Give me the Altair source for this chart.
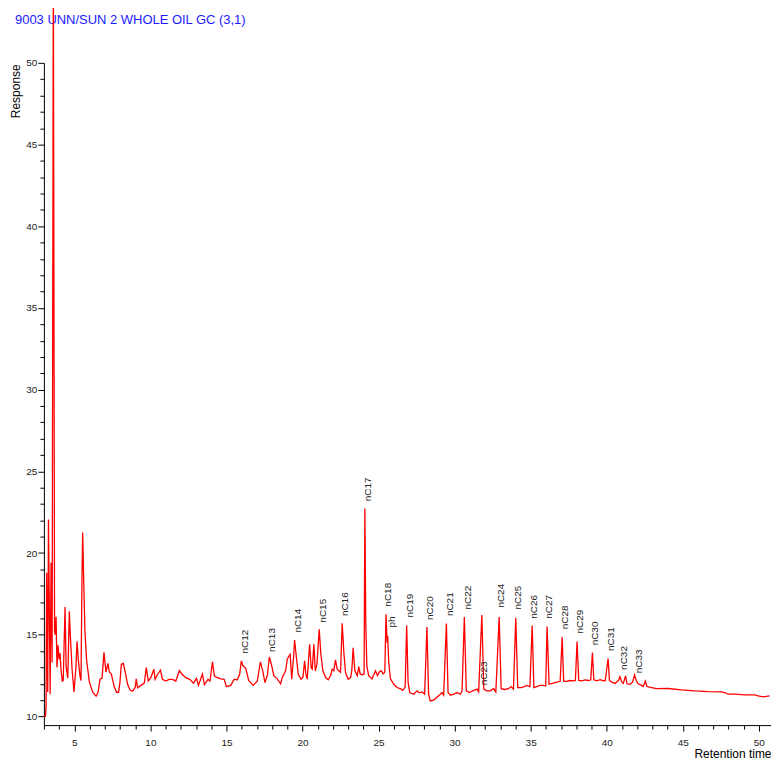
import altair as alt
import pandas as pd

title_text = "9003 UNN/SUN 2 WHOLE OIL GC (3,1)"

time_min = [
    3.00, 3.10, 3.14, 3.18, 3.25, 3.30, 3.41, 3.47, 3.54, 3.62, 3.70, 3.74, 3.80, 3.86, 3.93,
    4.00, 4.06, 4.12, 4.21, 4.27, 4.39, 4.46, 4.57, 4.67, 4.74, 4.85, 4.98, 5.11, 5.18, 5.26,
    5.37, 5.44, 5.50, 5.55, 5.62, 5.70, 5.81, 5.99, 6.21, 6.43, 6.56, 6.69, 6.82, 6.95, 7.08,
    7.21, 7.30, 7.43, 7.63, 7.78, 7.91, 8.00, 8.09, 8.22, 8.35, 8.50, 8.66, 8.83, 9.01, 9.07,
    9.16, 9.38, 9.60, 9.73, 9.86, 10.03, 10.23, 10.31, 10.47, 10.66, 10.79, 11.01, 11.23, 11.45,
    11.67, 11.91, 12.07, 12.33, 12.59, 12.83, 13.03, 13.16, 13.42, 13.55, 13.79, 13.92, 14.08,
    14.21, 14.41, 14.63, 14.85, 15.00, 15.28, 15.50, 15.72, 15.87, 15.98, 16.09, 16.27, 16.46,
    16.76, 17.03, 17.23, 17.39, 17.53, 17.69, 17.82, 17.95, 18.12, 18.34, 18.56, 18.67, 18.89,
    19.00, 19.11, 19.19, 19.29, 19.42, 19.48, 19.59, 19.72, 19.90, 20.03, 20.14, 20.22, 20.31,
    20.40, 20.47, 20.57, 20.64, 20.75, 20.84, 20.95, 21.10, 21.20, 21.34, 21.52, 21.69, 21.85,
    21.95, 22.06, 22.17, 22.28, 22.39, 22.50, 22.61, 22.72, 22.83, 23.00, 23.16, 23.24, 23.33,
    23.44, 23.60, 23.70, 23.79, 23.92, 24.05, 24.10, 24.16, 24.23, 24.35, 24.57, 24.80, 24.93,
    25.06, 25.19, 25.30, 25.41, 25.49, 25.56, 25.60, 25.67, 25.78, 26.00, 26.21, 26.43, 26.59,
    26.75, 26.85, 26.94, 27.05, 27.31, 27.53, 27.68, 27.86, 28.03, 28.18, 28.29, 28.40, 28.62,
    28.84, 29.06, 29.17, 29.28, 29.46, 29.57, 29.72, 29.94, 30.16, 30.38, 30.49, 30.64, 30.77,
    30.97, 31.19, 31.47, 31.58, 31.79, 31.92, 32.12, 32.34, 32.56, 32.71, 32.93, 33.06, 33.32,
    33.54, 33.72, 33.87, 34.02, 34.15, 34.37, 34.58, 34.74, 34.95, 35.10, 35.21, 35.40, 35.62,
    35.84, 35.99, 36.08, 36.21, 36.43, 36.72, 36.94, 37.07, 37.17, 37.37, 37.59, 37.81, 37.94,
    38.05, 38.16, 38.36, 38.58, 38.80, 38.95, 39.06, 39.15, 39.35, 39.57, 39.72, 39.90, 40.09,
    40.18, 40.33, 40.55, 40.77, 40.87, 40.99, 41.09, 41.24, 41.33, 41.53, 41.70, 41.83, 41.94,
    42.07, 42.29, 42.40, 42.54, 42.64, 42.95, 43.28, 44.04, 44.92, 45.80, 46.67, 47.54, 47.80,
    47.98, 48.42, 49.08, 49.73, 49.95, 50.28, 50.71,
]

response = [
    10.00, 10.00, 10.60, 18.80, 11.50, 22.05, 11.36, 19.40, 13.30, 56.00, 15.20, 15.00, 16.10, 13.00, 14.35,
    13.50, 13.87, 12.90, 12.16, 12.20, 16.70, 13.07, 12.34, 16.43, 14.90, 12.90, 11.50, 13.07, 14.60, 13.50,
    12.48, 12.20, 18.20, 21.25, 18.20, 15.15, 13.40, 12.10, 11.48, 11.24, 11.48, 12.28, 12.34, 13.92, 12.72,
    13.25, 12.72, 12.60, 11.80, 11.48, 11.48, 12.10, 13.20, 13.25, 12.70, 11.97, 11.62, 11.55, 11.80, 12.30,
    11.75, 11.90, 12.04, 12.99, 12.17, 12.37, 12.89, 12.27, 12.57, 12.84, 12.27, 12.17, 12.27, 12.27,
    12.17, 12.80, 12.60, 12.37, 12.27, 12.04, 12.33, 11.90, 12.60, 11.95, 12.27, 12.17, 13.34,
    12.47, 12.37, 12.30, 12.27, 11.82, 11.90, 12.27, 12.25, 12.60, 13.40, 13.10, 12.95, 12.20,
    11.90, 12.17, 13.34, 12.78, 12.07, 12.52, 13.64, 13.20, 12.48, 12.30, 12.00, 12.38, 12.79,
    13.50, 13.70, 13.80, 12.28, 13.70, 14.68, 13.70, 12.58, 12.28, 12.40, 13.40, 12.60, 12.28,
    13.50, 14.42, 12.99, 12.90, 14.42, 12.79, 13.20, 15.33, 13.90, 12.79, 12.38, 12.24, 12.50,
    12.89, 12.80, 13.46, 12.89, 12.80, 12.70, 15.70, 13.90, 12.69, 12.28, 12.38, 12.79, 14.20,
    12.79, 12.50, 13.05, 12.60, 12.55, 12.60, 22.72, 15.74, 13.09, 12.50, 12.30, 12.79, 12.50,
    12.75, 12.79, 12.60, 12.70, 16.25, 14.52, 14.92, 13.30, 12.32, 11.97, 11.77, 11.70, 11.60,
    11.80, 15.57, 12.10, 11.46, 11.36, 11.57, 11.45, 11.50, 11.36, 15.47, 11.36, 10.95, 11.00,
    11.18, 11.36, 11.46, 11.30, 15.68, 11.46, 11.30, 11.36, 11.46, 11.36, 11.57, 16.08, 11.57,
    11.46, 11.57, 11.67, 11.50, 16.20, 11.67, 11.57, 11.57, 11.70, 11.50, 16.08, 11.70, 11.65,
    11.70, 11.83, 11.67, 16.04, 11.77, 11.77, 11.83, 11.90, 11.83, 15.57, 11.77, 11.83, 11.90,
    11.90, 11.87, 15.50, 11.97, 12.02, 12.10, 12.15, 14.86, 12.15, 12.15, 12.20, 12.18, 12.20,
    14.58, 12.20, 12.18, 12.24, 12.20, 12.24, 13.91, 12.24, 12.18, 12.25, 12.20, 12.18, 13.54,
    12.20, 12.10, 12.02, 12.20, 12.44, 12.10, 12.02, 12.48, 12.00, 11.97, 12.10, 12.54, 12.20,
    12.00, 11.90, 11.83, 12.17, 11.83, 11.77, 11.70, 11.71, 11.62, 11.56, 11.52, 11.50, 11.45,
    11.36, 11.36, 11.32, 11.32, 11.26, 11.20, 11.26,
]

peak_names = ["nC12", "nC13", "nC14", "nC15", "nC16", "nC17", "nC18", "ph", "nC19", "nC20",
              "nC21", "nC22", "nC23", "nC24", "nC25", "nC26", "nC27", "nC28", "nC29", "nC30",
              "nC31", "nC32", "nC33"]
peak_label_time = [16.22, 17.99, 19.70, 21.32, 22.81, 24.29, 25.65, 25.87, 27.09, 28.38,
                   29.69, 30.87, 31.90, 33.07, 34.16, 35.25, 36.21, 37.26, 38.25, 39.23,
                   40.26, 41.16, 42.12]
peak_label_response = [13.85, 13.95, 15.13, 15.74, 16.14, 23.17, 16.72, 15.44, 16.05, 15.90,
                       16.14, 16.55, 11.91, 16.66, 16.55, 15.98, 15.98, 15.33, 15.07, 14.35,
                       14.00, 12.85, 12.64]

x_ticks = list(range(3, 51))
y_ticks = list(range(10, 51))

trace = pd.DataFrame({"t": time_min, "r": response})
labels = pd.DataFrame({"name": peak_names, "t": peak_label_time, "r": peak_label_response})
title_df = pd.DataFrame({"text": [title_text]})

W, H = 729, 664
FONT = "Liberation Sans"

xscale = alt.Scale(domain=[3, 50.8], nice=False, zero=False)
yscale = alt.Scale(domain=[9.47, 50], nice=False, zero=False)

major_tick = {"condition": {"test": "datum.value % 5 === 0", "value": 6}, "value": 4}

xaxis = alt.Axis(
    values=x_ticks,
    labelExpr="datum.value % 5 === 0 ? datum.label : ''",
    tickSize=major_tick,
    labelPadding=6,
    title="Retention time",
    titleX=W,
    titleY=32,
    titleAlign="right",
    titleBaseline="alphabetic",
    titleAngle=0,
    labelFlush=False,
    labelOverlap=False,
)
yaxis = alt.Axis(
    values=y_ticks,
    labelExpr="datum.value % 5 === 0 ? datum.label : ''",
    tickSize=major_tick,
    labelPadding=1,
    title="Response",
    titleAngle=270,
    titleX=-28,
    titleY=28,
    titleAlign="center",
    titleBaseline="middle",
    labelFlush=False,
    labelOverlap=False,
)

title_layer = alt.Chart(title_df).mark_text(
    align="left", baseline="alphabetic", fontSize=13, font=FONT, color="#1a1aff"
).encode(x=alt.value(-29), y=alt.value(-39.3), text="text:N")

line = alt.Chart(trace).mark_line(color="#ff0000", strokeWidth=1.3, clip=False).encode(
    x=alt.X("t:Q", scale=xscale, axis=xaxis),
    y=alt.Y("r:Q", scale=yscale, axis=yaxis),
    order="t:Q",
)

peak_text = alt.Chart(labels).mark_text(
    angle=270, align="left", baseline="middle", fontSize=10, font=FONT, color="#222222"
).encode(
    x=alt.X("t:Q", scale=xscale, axis=xaxis),
    y=alt.Y("r:Q", scale=yscale, axis=yaxis),
    text="name:N",
)

chart = (
    alt.layer(title_layer, line, peak_text)
    .properties(
        width=W,
        height=H,
        autosize=alt.AutoSizeParams(type="none"),
        padding={"left": 36, "top": 54, "right": 0, "bottom": 36},
    )
    .configure_view(stroke=None)
    .configure_axis(
        grid=False,
        domainColor="#000000",
        domainWidth=1,
        tickColor="#000000",
        tickWidth=1,
        labelFont=FONT,
        labelFontSize=10,
        labelColor="#222222",
        titleFont=FONT,
        titleFontSize=12,
        titleFontWeight="normal",
        titleColor="#000000",
    )
)

chart.save("out.html", embed_options={"renderer": "svg", "actions": False})
